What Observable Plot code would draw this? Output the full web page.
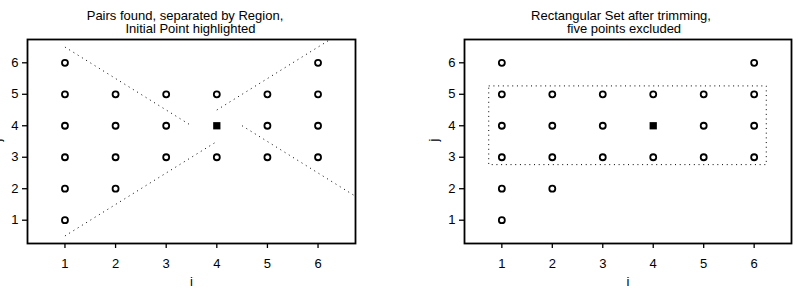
<!DOCTYPE html>
<html>
<head>
<meta charset="utf-8">
<script src="https://cdn.jsdelivr.net/npm/d3@7"></script>
<script src="https://cdn.jsdelivr.net/npm/@observablehq/plot@0.6"></script>
<style>
  html, body { margin: 0; padding: 0; background: #fff; }
  #wrap { display: flex; width: 798px; height: 298px; overflow: hidden; }
  #wrap svg { flex: none; }
  #wrap svg text { font-family: "Liberation Sans", Arial, Helvetica, sans-serif !important; font-size: 13px !important; fill: #000; }
</style>
</head>
<body>
<div id="wrap"></div>
<script>
// Pair points (i, j)
const pointI = [1, 1, 1, 1, 1, 1, 2, 2, 2, 2, 3, 3, 3, 4, 4, 5, 5, 5, 6, 6, 6, 6];
const pointJ = [1, 2, 3, 4, 5, 6, 2, 3, 4, 5, 3, 4, 5, 3, 5, 3, 4, 5, 3, 4, 5, 6];
// Initial point
const initI = [4];
const initJ = [4];
// Region separator segments (left panel)
const segX1 = [1, 4.5, 4, 1];
const segY1 = [6.5, 4, 4.5, 0.5];
const segX2 = [3.5, 6.75, 6.25, 4];
const segY2 = [4, 1.75, 6.75, 3.5];
// Trimmed rectangle (right panel)
const rectX = [0.75, 6.25];
const rectY = [2.75, 5.25];
// Ticks, titles, labels
const ticks = [1, 2, 3, 4, 5, 6];
const titlesLeft = ["Pairs found, separated by Region,", "Initial Point highlighted"];
const titlesRight = ["Rectangular Set after trimming,", "five points excluded"];
const xLabel = "i";
const yLabel = "j";

const points = pointI.map((v, k) => ({i: v, j: pointJ[k]}));
const init = initI.map((v, k) => ({i: v, j: initJ[k]}));
const segs = segX1.map((v, k) => ({x1: v, y1: segY1[k], x2: segX2[k], y2: segY2[k]}));
const rects = [{x1: rectX[0], x2: rectX[1], y1: rectY[0], y2: rectY[1]}];

function panel(opts) {
  const marks = [
    Plot.frame({stroke: "black", strokeWidth: 1.8}),
    Plot.axisX({ticks, tickSize: 5, tickPadding: 10, tickFormat: d => String(d), label: null, strokeWidth: 1.3}),
    Plot.axisY({ticks, tickSize: 5, tickPadding: 4, tickFormat: d => String(d), label: null, strokeWidth: 1.3}),
    ...opts.extra,
    Plot.dot(points, {x: "i", y: "j", r: 3, stroke: "black", strokeWidth: 1.8, fill: "none"}),
    Plot.dot(init, {x: "i", y: "j", r: 4.1, symbol: "square", fill: "black", stroke: "none"}),
    Plot.text([opts.titles[0]], {frameAnchor: "top", lineAnchor: "bottom", dy: -19.5, dx: opts.t1dx, text: d => d}),
    Plot.text([opts.titles[1]], {frameAnchor: "top", lineAnchor: "bottom", dy: -6.5, dx: opts.t2dx, text: d => d}),
    Plot.text([xLabel], {frameAnchor: "bottom", lineAnchor: "bottom", dy: 42, text: d => d}),
    Plot.text([yLabel], {frameAnchor: "left", lineAnchor: "bottom", rotate: -90, dx: -27, text: d => d})
  ];
  return Plot.plot({
    width: 399,
    height: 298,
    marginLeft: opts.ml,
    marginRight: opts.mr,
    marginTop: 39,
    marginBottom: 55,
    x: {domain: [0.26, 6.74]},
    y: {domain: [0.26, 6.74]},
    style: {background: "white", color: "black", overflow: "visible"},
    marks
  });
}

const left = panel({
  ml: 27, mr: 44, titles: titlesLeft, t1dx: -6.5, t2dx: -1,
  extra: [
    Plot.link(segs, {x1: "x1", y1: "y1", x2: "x2", y2: "y2", stroke: "black", strokeWidth: 1, strokeDasharray: "1,4", clip: true})
  ]
});
const right = panel({
  ml: 65, mr: 7, titles: titlesRight, t1dx: -7, t2dx: -4,
  extra: [
    Plot.rect(rects, {x1: "x1", x2: "x2", y1: "y1", y2: "y2", fill: "none", stroke: "black", strokeWidth: 1, strokeDasharray: "1,3.7"})
  ]
});
const wrap = document.getElementById("wrap");
wrap.appendChild(left);
wrap.appendChild(right);
</script>
</body>
</html>
